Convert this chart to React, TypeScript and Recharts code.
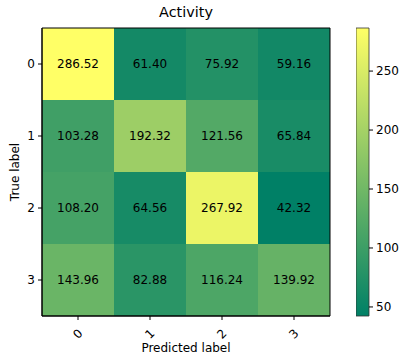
import { ScatterChart, Scatter, XAxis, YAxis, ReferenceArea } from 'recharts';

const LABELS = [0, 1, 2, 3];
const ROW_0 = [286.52, 61.4, 75.92, 59.16];
const ROW_1 = [103.28, 192.32, 121.56, 65.84];
const ROW_2 = [108.2, 64.56, 267.92, 42.32];
const ROW_3 = [143.96, 82.88, 116.24, 139.92];
const ROWS = [ROW_0, ROW_1, ROW_2, ROW_3];
const COLORBAR_TICKS = [50, 100, 150, 200, 250];

const FONT = '"DejaVu Sans", sans-serif';

const cells = ROWS.flatMap((row, r) => row.map((v, c) => ({ x: c, y: r, v })));
const vMin = Math.min(...cells.map((d) => d.v));
const vMax = Math.max(...cells.map((d) => d.v));
const cbarData = [
  { x: 0, y: vMin },
  { x: 1, y: vMax },
];

// matplotlib "summer": r = t, g = 0.5 + 0.5t, b = 0.4
function summer(v: number): string {
  const t = (v - vMin) / (vMax - vMin);
  const r = Math.round(255 * t);
  const g = Math.round(255 * (0.5 + 0.5 * t));
  return `rgb(${r},${g},102)`;
}

const tickStyle = { fontSize: 12, fill: '#000', fontFamily: FONT };

function RotatedTick(props: any) {
  const { x, y, payload } = props;
  return (
    <text
      x={x}
      y={y + 12}
      transform={`rotate(-45 ${x} ${y + 12})`}
      textAnchor="middle"
      dominantBaseline="central"
      fontSize={12}
      fontFamily={FONT}
      fill="#000"
    >
      {payload.value}
    </text>
  );
}

function CellText(props: any) {
  const { cx, cy, payload } = props;
  return (
    <text
      x={cx}
      y={cy}
      textAnchor="middle"
      dominantBaseline="central"
      fontSize={12}
      fontFamily={FONT}
      fill="#000"
    >
      {payload.v.toFixed(2)}
    </text>
  );
}

const Nothing = () => <g />;

export default function App() {
  return (
    <div style={{ position: 'absolute', left: 0, top: 0, width: 407, height: 358, background: '#fff' }}>
      <ScatterChart width={407} height={358} margin={{ top: 28, right: 77, bottom: 0, left: 0 }}>
        <XAxis
          type="number"
          dataKey="x"
          domain={[-0.5, 3.5]}
          ticks={LABELS}
          height={42}
          tick={<RotatedTick />}
          tickLine={{ stroke: '#000' }}
          tickSize={4}
          axisLine={{ stroke: '#000' }}
          allowDataOverflow
        />
        <YAxis
          type="number"
          dataKey="y"
          domain={[-0.5, 3.5]}
          ticks={LABELS}
          reversed
          width={42}
          tick={tickStyle}
          tickLine={{ stroke: '#000' }}
          tickSize={4}
          tickMargin={3}
          axisLine={{ stroke: '#000' }}
          allowDataOverflow
        />
        {cells.map((d) => (
          <ReferenceArea
            key={`${d.x}-${d.y}`}
            x1={d.x - 0.5}
            x2={d.x + 0.5}
            y1={d.y - 0.5}
            y2={d.y + 0.5}
            fill={summer(d.v)}
            fillOpacity={1}
            stroke="none"
          />
        ))}
        <ReferenceArea x1={-0.5} x2={3.5} y1={-0.5} y2={3.5} fill="none" stroke="#000" strokeWidth={1} />
        <Scatter data={cells} shape={<CellText />} isAnimationActive={false} />
        <text x={186} y={17} textAnchor="middle" fontSize={14.4} fontFamily={FONT} fill="#000">
          Activity
        </text>
        <text x={186} y={352} textAnchor="middle" fontSize={12} fontFamily={FONT} fill="#000">
          Predicted label
        </text>
        <text
          x={15}
          y={172}
          transform="rotate(-90 15 172)"
          textAnchor="middle"
          dominantBaseline="central"
          fontSize={12}
          fontFamily={FONT}
          fill="#000"
        >
          True label
        </text>
      </ScatterChart>
      <div style={{ position: 'absolute', left: 356, top: 0 }}>
        <ScatterChart width={51} height={358} margin={{ top: 28, right: 0, bottom: 0, left: 0 }}>
          <defs>
            <linearGradient id="cbar" x1="0" y1="1" x2="0" y2="0">
              <stop offset="0%" stopColor={summer(vMin)} />
              <stop offset="100%" stopColor={summer(vMax)} />
            </linearGradient>
          </defs>
          <XAxis type="number" dataKey="x" domain={[0, 1]} height={42} tick={false} axisLine={false} tickLine={false} />
          <YAxis
            type="number"
            dataKey="y"
            orientation="right"
            domain={[vMin, vMax]}
            ticks={COLORBAR_TICKS}
            width={38}
            tick={tickStyle}
            tickLine={{ stroke: '#000' }}
            tickSize={4}
            tickMargin={3}
            axisLine={false}
            allowDataOverflow
          />
          <ReferenceArea
            x1={0}
            x2={1}
            y1={vMin}
            y2={vMax}
            fill="url(#cbar)"
            fillOpacity={1}
            stroke="#333"
            strokeWidth={0.8}
          />
          <Scatter data={cbarData} shape={<Nothing />} isAnimationActive={false} />
        </ScatterChart>
      </div>
    </div>
  );
}
